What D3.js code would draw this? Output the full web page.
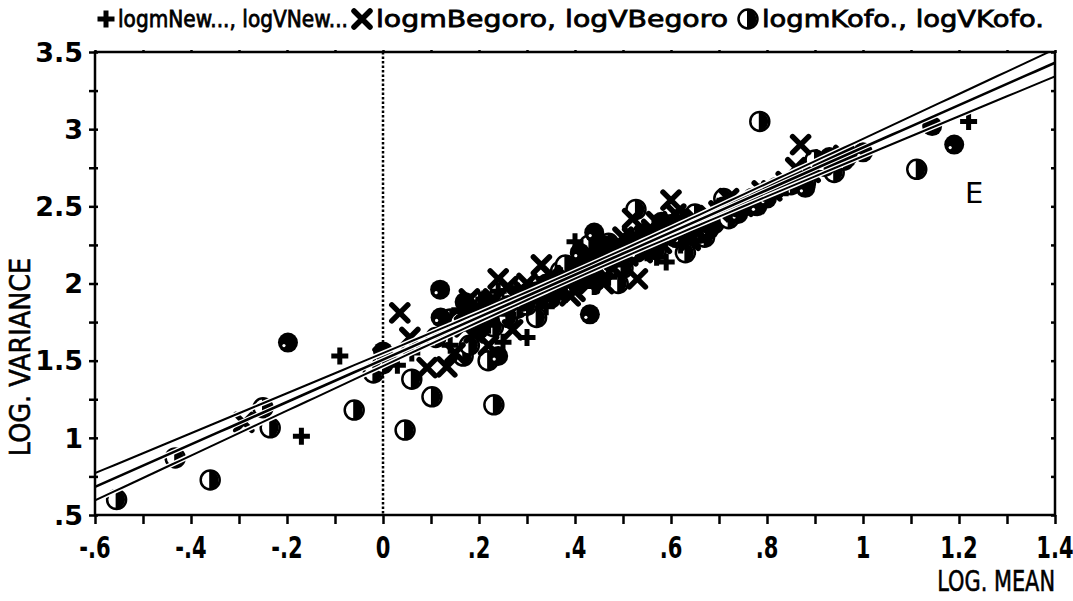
<!DOCTYPE html>
<html>
<head>
<meta charset="utf-8">
<script src="https://cdn.jsdelivr.net/npm/d3@7"></script>
<style>
  html, body { margin: 0; padding: 0; background: #fff; }
  svg { display: block; }
  text { font-family: "DejaVu Sans", sans-serif; fill: #000; }
</style>
</head>
<body>
<svg id="chart" width="1073" height="601"></svg>
<script>
// logm / logV pairs, New... sample (plus markers)
const newPts = [
  [-0.17,1.01],[-0.09,1.53],[0.03,1.47],[0.01,1.52],[0.16,1.83],[0.18,1.88],[0.2,1.78],[0.22,1.73],
  [0.25,1.62],[0.3,1.65],[0.27,1.88],[0.24,1.95],[0.29,1.92],[0.33,1.97],[0.36,2.02],[0.38,1.93],
  [0.40,2.27],[0.42,2.05],[0.44,2.1],[0.46,2.18],[0.47,2.04],[0.49,2.22],[0.5,2.12],[0.52,2.25],
  [0.53,2.32],[0.55,2.2],[0.56,2.28],[0.58,2.36],[0.59,2.14],[0.6,2.3],[0.62,2.25],[0.63,2.4],
  [0.65,2.32],[0.67,2.42],[0.7,2.5],[0.72,2.45],[0.74,2.48],[0.76,2.52],[0.78,2.55],[0.8,2.58],
  [0.84,2.62],[0.88,2.7],[0.9,2.72],[0.93,2.82],[0.95,2.8],[1.22,3.05],[0.12,1.68],[0.14,1.6],
  [0.06,1.55],[0.34,1.85],[0.44,1.98],[0.57,2.17],
  [0.19,1.82],[0.21,1.9],[0.23,1.85],[0.26,1.8],[0.28,1.95],[0.31,1.9],[0.35,2.0],[0.37,2.05],
  [0.41,2.12],[0.45,2.2],[0.48,2.15],[0.51,2.28],[0.54,2.3],[0.57,2.34],[0.61,2.38],[0.64,2.36],
  [0.66,2.4],[0.69,2.46],[0.73,2.5],[0.77,2.56],[0.82,2.63],[0.86,2.68],[0.17,1.78]
];
// Begoro sample (x markers)
const begoroPts = [
  [-0.29,1.1],[0.035,1.81],[0.056,1.65],[0.092,1.455],[0.133,1.46],[0.0,1.52],[0.17,1.72],[0.19,1.68],
  [0.21,1.8],[0.24,2.03],[0.26,1.98],[0.28,1.9],[0.3,2.0],[0.33,2.12],[0.35,2.05],[0.37,1.98],
  [0.39,1.92],[0.41,2.1],[0.43,2.0],[0.45,2.15],[0.47,2.22],[0.48,2.1],[0.5,2.3],[0.51,2.18],
  [0.53,2.03],[0.54,2.2],[0.56,2.35],[0.57,2.4],[0.58,2.26],[0.6,2.54],[0.61,2.45],[0.62,2.33],
  [0.64,2.28],[0.66,2.38],[0.68,2.44],[0.72,2.55],[0.75,2.5],[0.79,2.6],[0.87,2.9],[0.86,2.75],
  [0.92,2.8],[0.96,2.83],[0.15,1.55],[0.22,1.6],[0.27,1.7],[0.4,1.95],[0.46,2.0],[0.52,2.42],
  [0.18,1.9],[0.2,1.84],[0.23,1.9],[0.25,1.85],[0.29,1.96],[0.31,1.93],[0.34,1.98],[0.36,1.95],
  [0.38,2.05],[0.42,2.18],[0.44,2.12],[0.47,2.18],[0.49,2.25],[0.52,2.3],[0.55,2.24],[0.59,2.34],
  [0.63,2.36],[0.65,2.42],[0.7,2.47],[0.74,2.52],[0.81,2.6],[0.84,2.66],[0.89,2.72]
];
// Kofo. sample (half-filled circles)
const kofoPts = [
  [-0.555,0.6],[-0.433,0.87],[-0.36,0.727],[-0.25,1.195],[-0.235,1.065],[-0.06,1.18],[0.046,1.05],
  [0.102,1.266],[0.231,1.214],[0.167,1.53],[0.219,1.5],[-0.02,1.42],[0.0,1.48],[0.11,1.65],[0.14,1.77],
  [0.18,1.6],[0.2,1.88],[0.23,1.72],[0.26,1.78],[0.28,1.84],[0.31,1.88],[0.32,1.78],[0.35,1.95],
  [0.37,2.08],[0.39,2.0],[0.41,2.13],[0.43,2.25],[0.44,2.05],[0.48,2.2],[0.49,2.0],[0.5,2.1],
  [0.527,2.48],[0.55,2.27],[0.57,2.22],[0.6,2.38],[0.63,2.2],[0.65,2.45],[0.67,2.3],[0.69,2.39],
  [0.71,2.55],[0.73,2.47],[0.77,2.55],[0.785,3.05],[0.82,2.62],[0.88,2.65],[0.9,2.8],[0.94,2.72],
  [1.112,2.74],[0.06,1.38],
  [0.16,1.75],[0.19,1.8],[0.22,1.82],[0.25,1.9],[0.27,1.92],[0.3,1.86],[0.33,1.93],[0.36,1.98],
  [0.38,2.12],[0.4,2.05],[0.42,2.08],[0.45,2.16],[0.47,2.26],[0.5,2.2],[0.52,2.25],[0.54,2.32],
  [0.56,2.3],[0.58,2.3],[0.61,2.3],[0.62,2.42],[0.66,2.35],[0.68,2.4],[0.72,2.42],[0.75,2.5],
  [0.79,2.58],[0.85,2.64],[0.92,2.76],[0.96,2.8]
];
// solid circles
const solidPts = [
  [-0.198,1.617],[0.119,1.96],[0.431,1.8],[1.144,3.02],[1.19,2.9],[0.0,1.56],[0.12,1.78],[0.24,1.53],
  [0.44,2.33],[0.46,2.25],[0.55,2.3],[0.6,2.35],[0.64,2.32],[0.71,2.5],[0.82,2.62],[0.97,2.83],
  [0.35,1.9],[0.2,1.7],
  [0.17,1.88],[0.18,1.82],[0.22,1.86],[0.26,1.86],[0.29,1.88],[0.32,1.95],[0.34,2.0],[0.39,2.03],
  [0.41,2.2],[0.43,2.15],[0.47,2.15],[0.49,2.2],[0.51,2.22],[0.53,2.2],[0.56,2.25],[0.58,2.4],
  [0.62,2.3],[0.66,2.32],[0.68,2.35],[0.74,2.45],[0.78,2.5],[0.8,2.55],[0.88,2.62],[0.93,2.82],
  [0.95,2.82],[1.0,2.85]
];

// fitted line logV = intercept + slope * logm, with a confidence band
const fitIntercept = 1.507;
const fitSlope = 1.374;
const bandBase = 0.0006, bandSpread = 0.0072, bandCentre = 0.4;

const xTicks = [-0.6,-0.4,-0.2,0,0.2,0.4,0.6,0.8,1,1.2,1.4];
const xTickLabels = ["-.6","-.4","-.2","0",".2",".4",".6",".8","1","1.2","1.4"];
const xMinorTicks = [-0.6,-0.5,-0.4,-0.3,-0.2,-0.1,0,0.1,0.2,0.3,0.4,0.5,0.6,0.7,0.8,0.9,1,1.1,1.2,1.3,1.4];
const yTicks = [0.5,1,1.5,2,2.5,3,3.5];
const yTickLabels = [".5","1","1.5","2","2.5","3","3.5"];
const yMinorTicks = [0.5,0.75,1,1.25,1.5,1.75,2,2.25,2.5,2.75,3,3.25,3.5];

const legendItems = [
  {sym: "plus", label: "logmNew..., logVNew..."},
  {sym: "cross", label: "logmBegoro, logVBegoro"},
  {sym: "half", label: "logmKofo., logVKofo."}
];

const svg = d3.select("#chart");
const L = 95, R = 1055, T = 52, B = 515;
const x = d3.scaleLinear().domain([-0.6, 1.4]).range([L, R]);
const y = d3.scaleLinear().domain([0.5, 3.5]).range([B, T]);

// marker drawers
function drawPlus(g, cx, cy) {
  g.append("path")
    .attr("d", `M${cx-8.5},${cy}H${cx+8.5}M${cx},${cy-8.5}V${cy+8.5}`)
    .attr("stroke", "#000").attr("stroke-width", 5).attr("fill", "none");
}
function drawCross(g, cx, cy) {
  g.append("path")
    .attr("d", `M${cx-8},${cy-8}L${cx+8},${cy+8}M${cx-8},${cy+8}L${cx+8},${cy-8}`)
    .attr("stroke", "#000").attr("stroke-width", 5.5).attr("stroke-linecap", "round").attr("fill", "none");
}
function drawHalf(g, cx, cy) {
  const r = 9.5;
  g.append("circle").attr("cx", cx).attr("cy", cy).attr("r", r)
    .attr("fill", "#fff").attr("stroke", "#000").attr("stroke-width", 2.5);
  g.append("path")
    .attr("d", `M${cx-1},${cy-r}A${r},${r} 0 0 1 ${cx-1},${cy+r}Z`)
    .attr("fill", "#000");
}
function drawSolid(g, cx, cy) {
  g.append("circle").attr("cx", cx).attr("cy", cy).attr("r", 10).attr("fill", "#000");
  g.append("circle").attr("cx", cx - 4).attr("cy", cy + 3).attr("r", 1.6).attr("fill", "#fff");
}
const drawers = {plus: drawPlus, cross: drawCross, half: drawHalf, solid: drawSolid};

// dotted zero line
svg.append("line")
  .attr("x1", x(0)).attr("x2", x(0)).attr("y1", T).attr("y2", B)
  .attr("stroke", "#000").attr("stroke-width", 2.5).attr("stroke-dasharray", "2.5,2");

// points
const pts = svg.append("g");
[[kofoPts, "half"], [solidPts, "solid"], [begoroPts, "cross"], [newPts, "plus"]].forEach(([arr, s]) => {
  arr.forEach(d => drawers[s](pts, x(d[0]), y(d[1])));
});

// fitted line and band
const xs = d3.range(-0.6, 1.4001, 0.02);
const fit = v => fitIntercept + fitSlope * v;
const half = v => Math.sqrt(bandBase + bandSpread * (v - bandCentre) ** 2);
const lineGen = d3.line().x(d => x(d[0])).y(d => y(d[1]));
const upper = xs.map(v => [v, fit(v) + half(v)]);
const lower = xs.map(v => [v, fit(v) - half(v)]);
const mid = xs.map(v => [v, fit(v)]);
svg.append("clipPath").attr("id", "plotclip")
  .append("rect").attr("x", L).attr("y", T).attr("width", R - L).attr("height", B - T);
const lines = svg.append("g").attr("clip-path", "url(#plotclip)");
[upper, mid, lower].forEach(p => {
  lines.append("path").attr("d", lineGen(p)).attr("fill", "none").attr("stroke", "#fff").attr("stroke-width", 5);
});
[upper, lower].forEach(p => {
  lines.append("path").attr("d", lineGen(p)).attr("fill", "none").attr("stroke", "#000").attr("stroke-width", 2);
});
lines.append("path").attr("d", lineGen(mid)).attr("fill", "none").attr("stroke", "#000").attr("stroke-width", 2.6);

// frame
svg.append("rect").attr("x", L).attr("y", T).attr("width", R - L).attr("height", B - T)
  .attr("fill", "none").attr("stroke", "#000").attr("stroke-width", 2.5);

// bottom axis
const xAxis = d3.axisBottom(x).tickValues(xMinorTicks).tickSize(9).tickFormat("");
const gx = svg.append("g").attr("transform", `translate(0,${B})`).call(xAxis);
gx.select(".domain").remove();
gx.selectAll(".tick line").attr("stroke-width", 2.5);
svg.append("g").selectAll("text").data(xTicks).join("text")
  .attr("x", 0).attr("y", 0)
  .attr("text-anchor", "middle").attr("font-size", 31).attr("font-weight", "bold")
  .attr("transform", d => `translate(${x(d)},558) scale(0.68,1)`)
  .text((d, i) => xTickLabels[i]);

// top small ticks
const xTop = d3.axisTop(x).tickValues(xMinorTicks).tickSize(3).tickFormat("");
const gt = svg.append("g").attr("transform", `translate(0,${T + 1})`).call(xTop);
gt.select(".domain").remove();
gt.selectAll(".tick line").attr("stroke-width", 2.5);

// left axis
const yAxis = d3.axisLeft(y).tickValues(yMinorTicks).tickSize(6).tickFormat("");
const gy = svg.append("g").attr("transform", `translate(${L},0)`).call(yAxis);
gy.select(".domain").remove();
gy.selectAll(".tick line").attr("stroke-width", 2.5).attr("x2", -6).attr("x1", 3);
svg.append("g").selectAll("text").data(yTicks).join("text")
  .attr("x", 83).attr("y", d => y(d)).attr("dy", "0.36em")
  .attr("text-anchor", "end").attr("font-size", 27).attr("font-weight", "bold")
  .text((d, i) => yTickLabels[i]);

// right small ticks
const yRight = d3.axisLeft(y).tickValues(yMinorTicks).tickSize(4).tickFormat("");
const gr = svg.append("g").attr("transform", `translate(${R},0)`).call(yRight);
gr.select(".domain").remove();
gr.selectAll(".tick line").attr("stroke-width", 2.5);

// axis titles
svg.append("text")
  .attr("transform", `translate(30,357) rotate(-90) scale(0.88,1)`)
  .attr("text-anchor", "middle").attr("font-size", 29)
  .attr("stroke", "#000").attr("stroke-width", 0.6)
  .text("LOG. VARIANCE");
svg.append("text")
  .attr("transform", `translate(1055,591) scale(0.72,1)`)
  .attr("text-anchor", "end").attr("font-size", 29)
  .attr("stroke", "#000").attr("stroke-width", 0.6)
  .text("LOG. MEAN");

// panel letter
svg.append("text").attr("x", 965).attr("y", 203).attr("font-size", 29).text("E");

// legend
const legendPos = [
  {sx: 106, tx: 118, tw: 230},
  {sx: 362, tx: 376, tw: 352},
  {sx: 748, tx: 762, tw: 282}
];
const lg = svg.append("g");
legendItems.forEach((it, i) => {
  const p = legendPos[i];
  drawers[it.sym](lg, p.sx, 19);
  lg.append("text").attr("x", p.tx).attr("y", 27).attr("font-size", 23)
    .attr("stroke", "#000").attr("stroke-width", 0.8)
    .attr("textLength", p.tw).attr("lengthAdjust", "spacingAndGlyphs")
    .text(it.label);
});
</script>
</body>
</html>
